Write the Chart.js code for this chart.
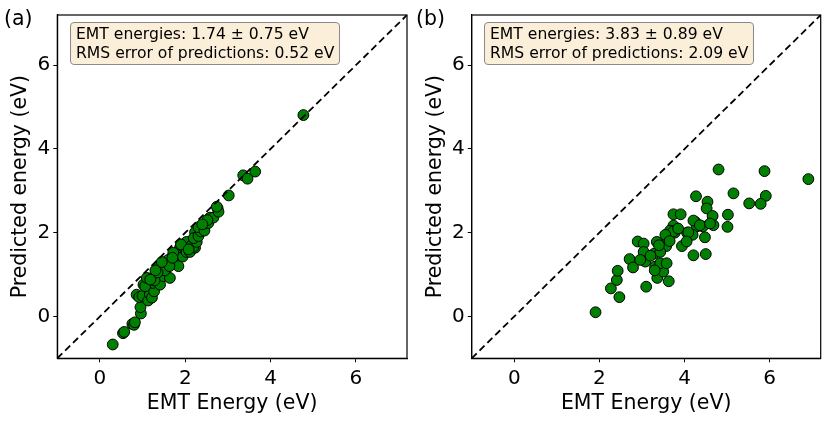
<!DOCTYPE html>
<html>
<head>
<meta charset="utf-8">
<script src="https://cdn.jsdelivr.net/npm/chart.js@4.4.1/dist/chart.umd.min.js"></script>
<style>
  html, body { margin: 0; padding: 0; background: #fff; }
  body { width: 830px; height: 423px; position: relative; overflow: hidden; font-family: "DejaVu Sans", sans-serif; }
  .panel { position: absolute; top: 0; width: 415px; height: 423px; }
  .tag { position: absolute; font-size: 20.5px; color: #000; line-height: 1; }
  .box { position: absolute; font-size: 15.6px; line-height: 18.5px; padding: 2px 5px 2px 5px;
         background: #fbefda; border: 1px solid #8a8a8a; border-radius: 4px; white-space: nowrap; color: #000; }
</style>
</head>
<body>
<div class="panel" style="left:0"><canvas id="cA" width="415" height="423"></canvas></div>
<div class="panel" style="left:415px"><canvas id="cB" width="415" height="423"></canvas></div>
<div class="tag" style="left:4px;top:8px">(a)</div>
<div class="tag" style="left:416px;top:8px">(b)</div>
<div class="box" style="left:70px;top:22px">EMT energies: 1.74 ± 0.75 eV<br>RMS error of predictions: 0.52 eV</div>
<div class="box" style="left:484px;top:22px">EMT energies: 3.83 ± 0.89 eV<br>RMS error of predictions: 2.09 eV</div>
<script>
// ---- data ----
const axisMin = -1;
const axisMax = 7.2;
const tickValues = [0, 2, 4, 6];
const xLabel = "EMT Energy (eV)";
const yLabel = "Predicted energy (eV)";

// panel (a)
const xA = [0.30,0.54,0.57,0.76,0.80,0.82,0.96,0.95,0.86,0.92,1.00,1.02,1.12,1.13,1.17,1.22,1.27,1.24,1.06,
            1.41,1.29,1.49,1.37,1.64,1.56,1.49,1.52,1.28,1.35,1.60,1.72,1.81,1.77,1.94,1.84,1.88,2.00,1.96,2.03,
            2.11,1.72,1.63,1.45,2.03,2.15,2.23,2.19,2.27,2.23,2.20,2.31,2.36,2.39,2.31,2.45,2.54,2.58,2.66,2.52,
            2.76,2.78,2.74,3.02,3.36,3.46,3.64,4.77,1.10,1.90,2.08,1.30,1.18,2.40,1.70];
const yA = [-0.67,-0.40,-0.37,-0.18,-0.20,-0.14,0.07,0.22,0.52,0.46,0.49,0.76,0.68,0.38,0.53,0.45,0.60,0.80,0.72,
            0.76,0.99,0.96,1.19,0.92,1.23,1.15,1.10,0.86,1.05,1.35,1.46,1.50,1.27,1.43,1.20,1.65,1.74,1.66,1.54,
            1.54,1.52,1.20,1.30,1.78,1.70,1.64,1.66,1.78,2.01,1.87,1.92,2.03,2.15,2.13,2.05,2.23,2.36,2.36,2.30,
            2.58,2.50,2.62,2.89,3.37,3.29,3.46,4.81,0.92,1.72,1.60,1.10,0.88,2.20,1.40];

// panel (b)
const xB = [1.91,2.47,2.27,2.41,2.43,2.71,2.79,3.10,2.90,3.04,3.04,3.08,2.96,3.29,3.35,3.31,3.36,3.49,3.63,
            3.57,3.62,3.43,3.50,3.74,3.66,3.77,3.74,3.91,3.94,4.06,3.60,3.43,3.58,3.30,3.20,3.40,
            4.80,5.88,6.91,4.27,5.15,5.91,5.52,5.79,4.54,4.52,4.66,5.02,5.01,4.68,4.43,4.25,4.29,4.19,
            4.09,4.48,4.21,4.50,4.05,4.21,3.74,4.36,4.60,3.85,3.55,3.65];
const yB = [0.10,0.46,0.67,0.87,1.09,1.37,1.17,0.71,1.79,1.74,1.54,1.31,1.35,1.50,1.78,1.19,0.92,1.21,0.84,
            1.68,1.91,1.54,1.07,2.17,2.05,2.00,2.44,2.44,1.68,2.00,1.85,1.27,1.27,1.10,1.45,1.70,
            3.51,3.47,3.28,2.87,2.94,2.88,2.70,2.69,2.74,2.58,2.40,2.43,2.14,2.18,2.15,2.26,2.15,1.95,
            2.01,1.89,1.46,1.49,1.79,2.29,2.03,2.18,2.22,2.10,1.95,1.80];

// ---- chart builder ----
const FONT = "'DejaVu Sans', sans-serif";

const framePlugin = {
  id: 'frame',
  afterDraw(chart) {
    const a = chart.chartArea, c = chart.ctx;
    c.save();
    c.strokeStyle = '#000';
    c.lineWidth = 1.2;
    c.strokeRect(a.left, a.top, a.right - a.left, a.bottom - a.top);
    c.restore();
  }
};

function makeChart(id, xs, ys, yAxisWidth, padRight) {
  const pts = xs.map((x, i) => ({ x: x, y: ys[i] }));
  const diag = [{ x: axisMin, y: axisMin }, { x: axisMax, y: axisMax }];
  const setTicks = (axis) => { axis.ticks = tickValues.map(v => ({ value: v })); };
  return new Chart(document.getElementById(id), {
    type: 'scatter',
    data: {
      datasets: [
        { type: 'line', data: diag, borderColor: '#000', borderWidth: 1.8, borderDash: [7, 4],
          pointRadius: 0, fill: false, order: 0 },
        { data: pts, backgroundColor: '#008000', borderColor: '#000', borderWidth: 1,
          pointRadius: 5.4, order: 1 }
      ]
    },
    options: {
      responsive: false,
      animation: false,
      devicePixelRatio: 1,
      layout: { padding: { top: 9, right: padRight, left: 0, bottom: 0 } },
      plugins: { legend: { display: false }, tooltip: { enabled: false } },
      scales: {
        x: {
          type: 'linear', min: axisMin, max: axisMax,
          afterBuildTicks: setTicks,
          afterFit: (s) => { s.height = 423 - 358.3; },
          grid: { drawOnChartArea: false, tickLength: 4, color: '#000', tickColor: '#000' },
          border: { color: '#000', width: 1.2 },
          ticks: { font: { family: FONT, size: 20 }, color: '#000', padding: 4, maxRotation: 0 },
          title: { display: true, text: xLabel, font: { family: FONT, size: 20.5 }, color: '#000',
                   padding: { top: 0, bottom: 7 } }
        },
        y: {
          type: 'linear', min: axisMin, max: axisMax,
          afterBuildTicks: setTicks,
          afterFit: (s) => { s.width = yAxisWidth; },
          grid: { drawOnChartArea: false, tickLength: 4, color: '#000', tickColor: '#000' },
          border: { color: '#000', width: 1.2 },
          ticks: { font: { family: FONT, size: 20 }, color: '#000', padding: 3 },
          title: { display: true, text: yLabel, font: { family: FONT, size: 20.5 }, color: '#000',
                   padding: { top: 8, bottom: 0 } }
        }
      }
    },
    plugins: [framePlugin]
  });
}

makeChart('cA', xA, yA, 57.3, 8);
makeChart('cB', xB, yB, 56.7, 9.3);
</script>
</body>
</html>
